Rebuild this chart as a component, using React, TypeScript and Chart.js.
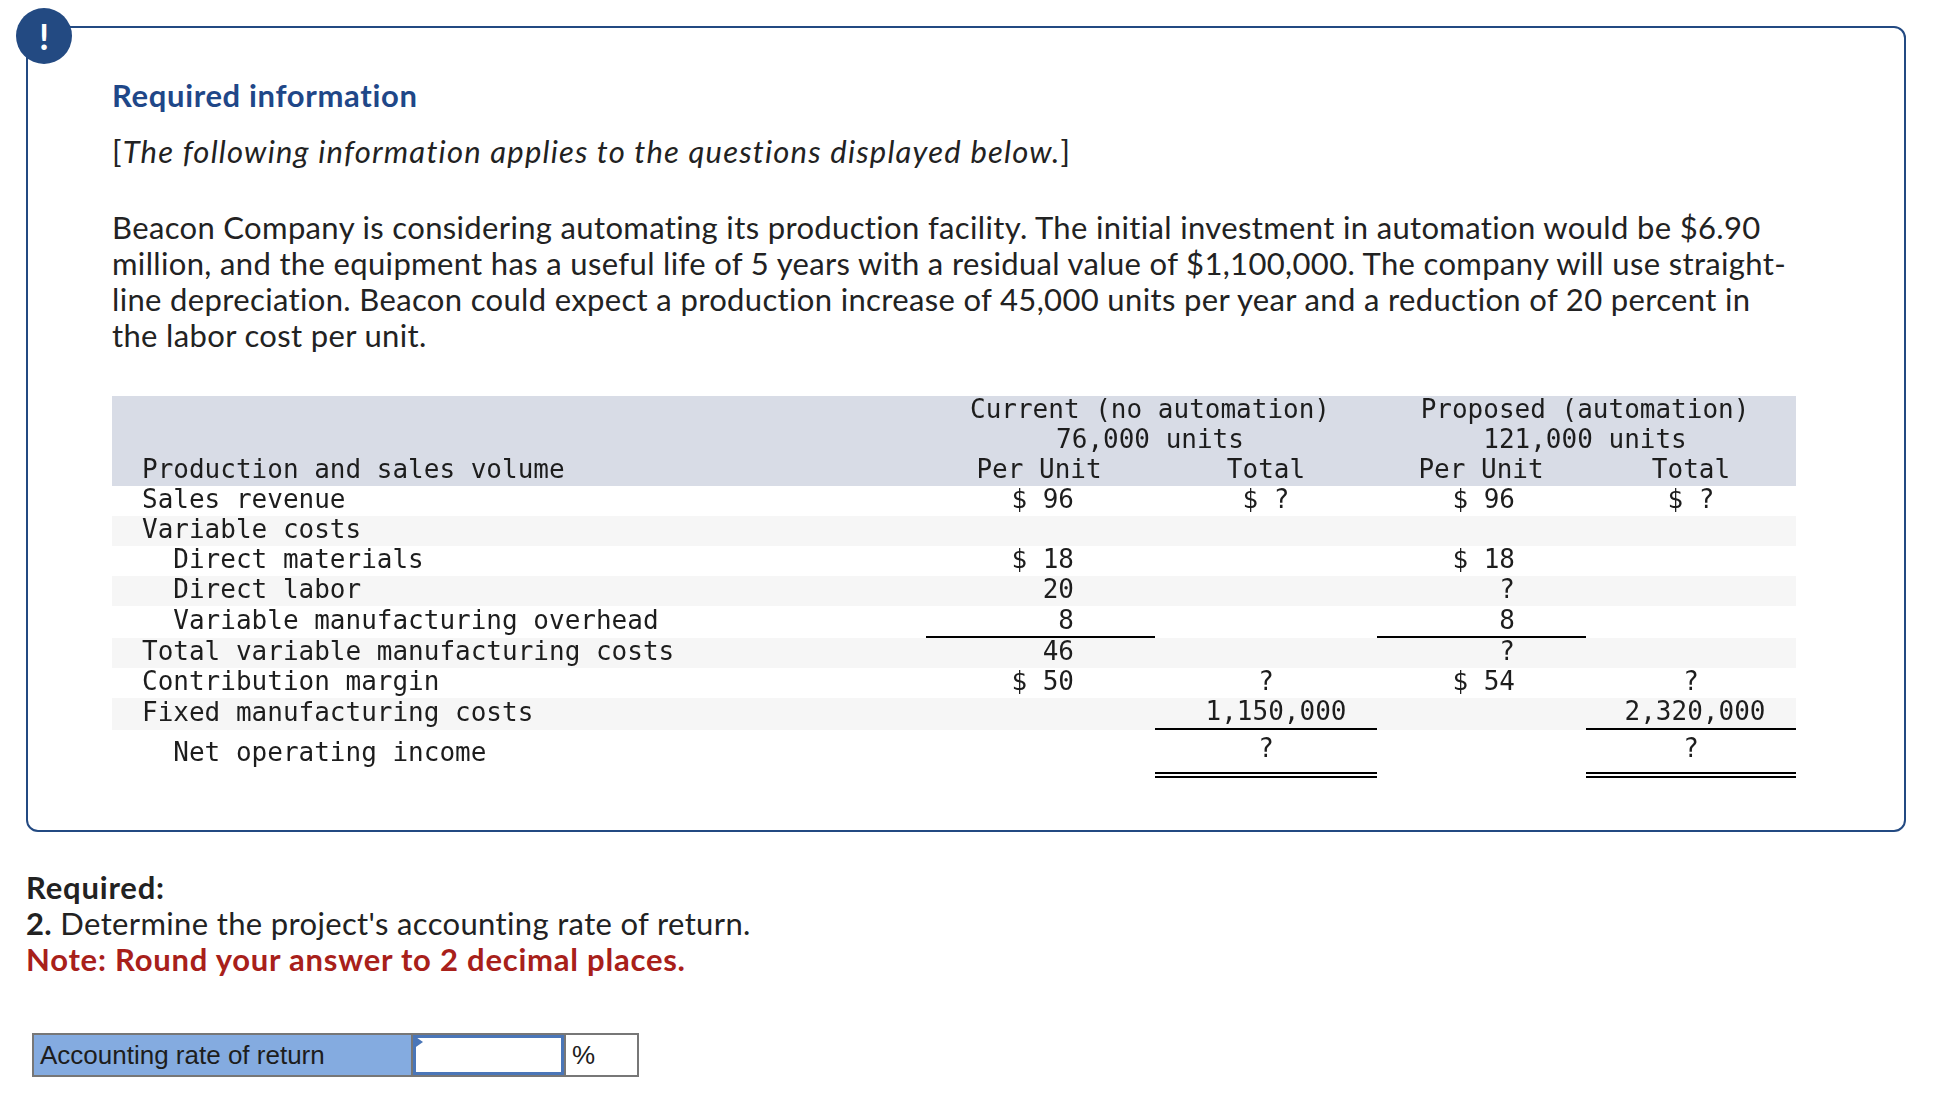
import { useEffect, useRef } from 'react';
import { Chart, registerables } from 'chart.js';

Chart.register(...registerables);

const rowLabels = [
  '',
  '',
  'Production and sales volume',
  'Sales revenue',
  'Variable costs',
  '  Direct materials',
  '  Direct labor',
  '  Variable manufacturing overhead',
  'Total variable manufacturing costs',
  'Contribution margin',
  'Fixed manufacturing costs',
  '  Net operating income',
];

const currentPerUnit = ['', '', 'Per Unit', '$ 96', '', '$ 18', '20', '8', '46', '$ 50', '', ''];
const currentTotal = ['', '', 'Total', '$ ?', '', '', '', '', '', '?', '1,150,000', '?'];
const proposedPerUnit = ['', '', 'Per Unit', '$ 96', '', '$ 18', '?', '8', '?', '$ 54', '', ''];
const proposedTotal = ['', '', 'Total', '$ ?', '', '', '', '', '', '?', '2,320,000', '?'];
const currentHeading = ['Current (no automation)', '76,000 units'];
const proposedHeading = ['Proposed (automation)', '121,000 units'];

// table geometry, in page pixels
const rowCenters = [411, 441, 471, 501, 531, 561, 591, 622, 653, 683, 714, 754];
const rowEdges = [396, 486, 516, 546, 576, 606, 638, 668, 698, 730];
const stripedRows = [2, 4, 6, 8];
const tableLeft = 112;
const tableRight = 1796;
const tableTop = 396;
const tableBottom = 796;
const labelColumnEnd = 812;
const perUnitRight = [1074, 1515];
const totalCenters = [1266, 1691];
const longValueShift = [10, 4];
const headingCenters = [1150, 1585];
const perUnitHeadCenters = [1039, 1481];
const singleRules = [[926, 1155, 637], [1377, 1586, 637], [1155, 1377, 729], [1586, 1796, 729]];
const doubleRules = [[1155, 1377, 773], [1586, 1796, 773]];

const MONO = '"DejaVu Sans Mono", monospace';
const INK = '#1d1d1d';

const tablePlugin = {
  id: 'tablePlugin',
  beforeDraw(chart: any) {
    // has to go under the axis labels
    const { ctx, scales } = chart;
    const { x, y } = scales;
    const left = x.getPixelForValue(tableLeft);
    const width = x.getPixelForValue(tableRight) - left;
    ctx.save();
    ctx.fillStyle = '#d8dce6';
    ctx.fillRect(left, y.getPixelForValue(rowEdges[0]), width, rowEdges[1] - rowEdges[0]);
    ctx.fillStyle = '#f6f6f6';
    stripedRows.forEach((i) => {
      ctx.fillRect(left, y.getPixelForValue(rowEdges[i]), width, rowEdges[i + 1] - rowEdges[i]);
    });
    ctx.restore();
  },
  afterDatasetsDraw(chart: any) {
    const { ctx, scales } = chart;
    const { x, y } = scales;
    ctx.save();
    ctx.font = `26px ${MONO}`;
    ctx.fillStyle = INK;
    ctx.textBaseline = 'middle';

    // spanning headings
    ctx.textAlign = 'center';
    [currentHeading, proposedHeading].forEach((lines, c) => {
      lines.forEach((text, r) => {
        ctx.fillText(text, x.getPixelForValue(headingCenters[c]), y.getPixelForValue(rowCenters[r]));
      });
    });

    // per unit columns line up on the right, the header row is centred
    [currentPerUnit, proposedPerUnit].forEach((cells, c) => {
      cells.forEach((text, r) => {
        if (!text) return;
        const isHead = r === 2;
        ctx.textAlign = isHead ? 'center' : 'right';
        const px = isHead ? perUnitHeadCenters[c] : perUnitRight[c];
        ctx.fillText(text, x.getPixelForValue(px), y.getPixelForValue(rowCenters[r]));
      });
    });

    ctx.textAlign = 'center';
    [currentTotal, proposedTotal].forEach((cells, c) => {
      cells.forEach((text, r) => {
        if (!text) return;
        const up = r === 11 ? 4 : r === 10 ? 1 : 0;
        const over = r === 10 ? longValueShift[c] : 0;
        ctx.fillText(text, x.getPixelForValue(totalCenters[c] + over), y.getPixelForValue(rowCenters[r] - up));
      });
    });

    // accounting rules
    ctx.strokeStyle = '#000';
    ctx.lineWidth = 2;
    const rule = (a: number, b: number, at: number) => {
      ctx.beginPath();
      ctx.moveTo(x.getPixelForValue(a), y.getPixelForValue(at));
      ctx.lineTo(x.getPixelForValue(b), y.getPixelForValue(at));
      ctx.stroke();
    };
    singleRules.forEach(([a, b, at]) => rule(a, b, at));
    doubleRules.forEach(([a, b, at]) => {
      rule(a, b, at);
      rule(a, b, at + 4);
    });
    ctx.restore();
  },
};

function TableChart() {
  const canvasRef = useRef<HTMLCanvasElement>(null);

  useEffect(() => {
    if (!canvasRef.current) return;
    const chart = new Chart(canvasRef.current, {
      type: 'scatter',
      data: { datasets: [{ data: [], pointRadius: 0 }] },
      options: {
        animation: false,
        responsive: false,
        devicePixelRatio: 1,
        layout: { padding: { left: 30, right: 0, top: 0, bottom: 0 } },
        plugins: { legend: { display: false }, tooltip: { enabled: false } },
        scales: {
          x: { type: 'linear', display: false, min: labelColumnEnd, max: tableRight },
          y: {
            type: 'linear',
            reverse: true,
            min: tableTop,
            max: tableBottom,
            grid: { display: false },
            border: { display: false },
            afterBuildTicks: (scale: any) => {
              scale.ticks = rowCenters.map((value) => ({ value }));
            },
            afterFit: (scale: any) => {
              scale.width = labelColumnEnd - tableLeft - 30;
              scale.paddingTop = 0;
              scale.paddingBottom = 0;
            },
            ticks: {
              autoSkip: false,
              crossAlign: 'far',
              color: INK,
              font: { family: MONO, size: 26 },
              callback: (_v: any, i: number) => rowLabels[i],
            },
          },
        },
      },
      plugins: [tablePlugin],
    });
    return () => chart.destroy();
  }, []);

  return (
    <canvas
      ref={canvasRef}
      width={tableRight - tableLeft}
      height={tableBottom - tableTop}
      style={{ position: 'absolute', left: tableLeft, top: tableTop, width: tableRight - tableLeft, height: tableBottom - tableTop }}
    />
  );
}

const SANS = 'Lato, sans-serif';

function Line({ x, y, size = 31, spacing = 0.35, style, children }: any) {
  return (
    <div
      style={{
        position: 'absolute',
        left: x,
        top: y - 20,
        height: 40,
        lineHeight: '40px',
        fontSize: size,
        letterSpacing: spacing,
        fontFamily: SANS,
        color: '#222',
        whiteSpace: 'nowrap',
        ...style,
      }}
    >
      {children}
    </div>
  );
}

const paragraph = [
  'Beacon Company is considering automating its production facility. The initial investment in automation would be $6.90',
  'million, and the equipment has a useful life of 5 years with a residual value of $1,100,000. The company will use straight-',
  'line depreciation. Beacon could expect a production increase of 45,000 units per year and a reduction of 20 percent in',
  'the labor cost per unit.',
];

export default function App() {
  useEffect(() => {
    document.body.style.margin = '0';
    document.body.style.background = '#fff';
  }, []);

  return (
    <div style={{ position: 'relative', width: 1950, height: 1114, overflow: 'hidden', background: '#fff' }}>
      <div
        style={{
          position: 'absolute',
          left: 26,
          top: 26,
          width: 1880,
          height: 806,
          boxSizing: 'border-box',
          border: '2px solid #234a82',
          borderRadius: 12,
        }}
      />
      <div
        style={{
          position: 'absolute',
          left: 16,
          top: 8,
          width: 56,
          height: 56,
          borderRadius: '50%',
          background: '#234a82',
          color: '#fff',
          textAlign: 'center',
          lineHeight: '56px',
          fontFamily: SANS,
          fontWeight: 700,
          fontSize: 36,
        }}
      >
        !
      </div>

      <Line x={112} y={95} spacing={0.65} style={{ color: '#1f4788', fontWeight: 700 }}>Required information</Line>
      <Line x={112} y={151} spacing={1.2}>[<i>The following information applies to the questions displayed below.</i>]</Line>
      {paragraph.map((text, i) => (
        <Line key={i} x={112} y={226.5 + i * 36}>{text}</Line>
      ))}

      <TableChart />

      <Line x={26} y={887} spacing={0.8} style={{ fontWeight: 700 }}>Required:</Line>
      <Line x={26} y={923}><b>2.</b> Determine the project's accounting rate of return.</Line>
      <Line x={26} y={959} spacing={0.77} style={{ color: '#a8201a', fontWeight: 700 }}>Note: Round your answer to 2 decimal places.</Line>

      <div
        style={{
          position: 'absolute',
          left: 32,
          top: 1033,
          width: 607,
          height: 44,
          boxSizing: 'border-box',
          border: '2px solid #777',
          background: '#fff',
        }}
      >
        <div style={{ position: 'absolute', left: 0, top: 0, width: 377, height: 40, background: '#84abe0', borderRight: '2px solid #777' }} />
        <div style={{ position: 'absolute', left: 6, top: 0, height: 40, lineHeight: '40px', fontFamily: '"Liberation Sans", sans-serif', fontSize: 26, color: '#1d1d1d', whiteSpace: 'nowrap' }}>
          Accounting rate of return
        </div>
        <div style={{ position: 'absolute', left: 379, top: 0, width: 151, height: 40, boxSizing: 'border-box', border: '3px solid #4a76b8' }} />
        <div style={{ position: 'absolute', left: 379, top: 0, width: 0, height: 0, borderTop: '7px solid transparent', borderBottom: '7px solid transparent', borderLeft: '10px solid #4a76b8' }} />
        <div style={{ position: 'absolute', left: 530, top: 0, width: 2, height: 40, background: '#777' }} />
        <div style={{ position: 'absolute', left: 538, top: 0, height: 40, lineHeight: '40px', fontFamily: '"Liberation Sans", sans-serif', fontSize: 26, color: '#1d1d1d' }}>%</div>
      </div>
    </div>
  );
}
